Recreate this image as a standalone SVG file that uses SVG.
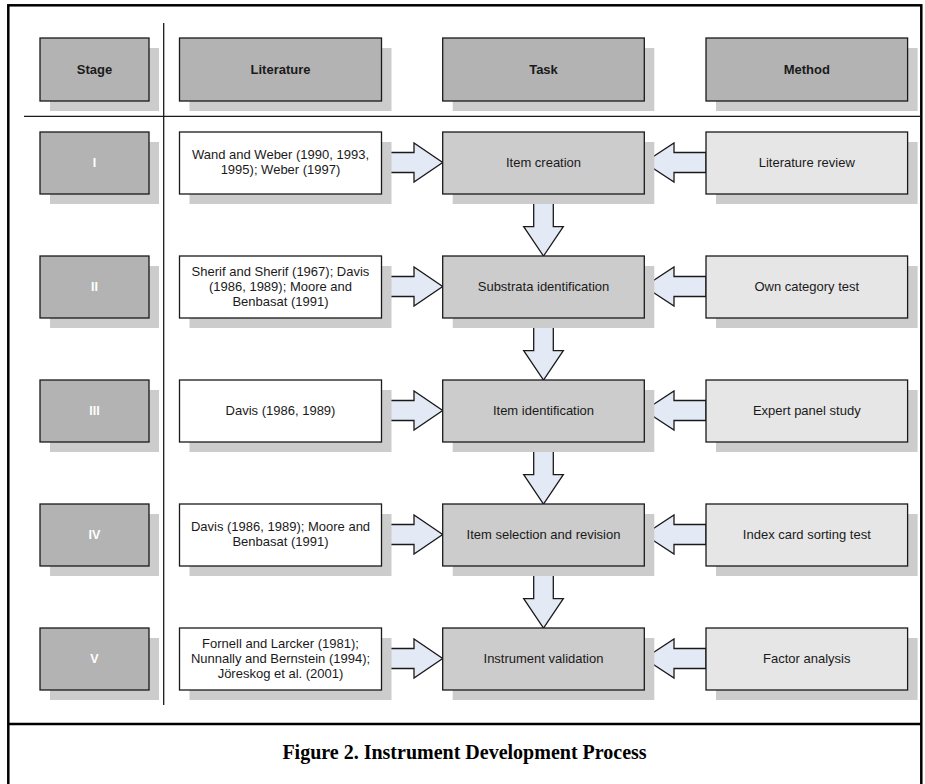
<svg xmlns="http://www.w3.org/2000/svg" width="925" height="784" viewBox="0 0 925 784">
<style>
.sh{fill:#cccccc}
.b{stroke:#1a1a1a;stroke-width:1.3}
.hd{fill:#b3b3b3}
.st{fill:#b3b3b3}
.lit{fill:#ffffff}
.task{fill:#cccccc}
.meth{fill:#e6e6e6}
.arr{fill:#e3eaf6;stroke:#1a1a1a;stroke-width:1.3;stroke-linejoin:miter}
text{font-family:"Liberation Sans",Arial,sans-serif;font-size:13px;text-anchor:middle;fill:#1a1a1a}
.bold{font-weight:bold}
.wt{fill:#ffffff;font-weight:bold;font-size:12.5px}
.cap{font-family:"Liberation Serif","Times New Roman",serif;font-weight:bold;font-size:20px;fill:#000}
</style>
<rect x="0" y="0" width="925" height="784" fill="#ffffff"/>
<rect x="8.3" y="5.3" width="913" height="820" fill="none" stroke="#000" stroke-width="2.5"/>
<line x1="8.3" y1="724" x2="921.3" y2="724" stroke="#000" stroke-width="2.5"/>
<g id="grid">
<line x1="163.7" y1="23" x2="163.7" y2="705" stroke="#1a1a1a" stroke-width="1.3"/>
<line x1="24" y1="116.3" x2="921" y2="116.3" stroke="#1a1a1a" stroke-width="1.3"/>
</g>
<g id="header">
<g id="h-stage"><rect class="sh" x="50" y="48" width="109" height="63"/><rect class="hd b" x="40" y="38" width="109" height="63"/><text class="bold" x="94.5" y="74">Stage</text></g>
<g id="h-lit"><rect class="sh" x="189.5" y="48" width="202" height="63"/><rect class="hd b" x="179.5" y="38" width="202" height="63"/><text class="bold" x="280.5" y="74">Literature</text></g>
<g id="h-task"><rect class="sh" x="452.7" y="48" width="201.6" height="63"/><rect class="hd b" x="442.7" y="38" width="201.6" height="63"/><text class="bold" x="543.5" y="74">Task</text></g>
<g id="h-method"><rect class="sh" x="716" y="48" width="201.6" height="63"/><rect class="hd b" x="706" y="38" width="201.6" height="63"/><text class="bold" x="806.8" y="74">Method</text></g>
</g>
<g id="connectors">
<path class="arr" d="M381.3,152.5 H414 V143 L442.7,162.5 L414,182 V172.5 H381.3 Z"/>
<path class="arr" d="M706,152.5 H674 V143 L644.3,162.5 L674,182 V172.5 H706 Z"/>
<path class="arr" d="M381.3,276.5 H414 V267 L442.7,286.5 L414,306 V296.5 H381.3 Z"/>
<path class="arr" d="M706,276.5 H674 V267 L644.3,286.5 L674,306 V296.5 H706 Z"/>
<path class="arr" d="M381.3,400.5 H414 V391 L442.7,410.5 L414,430 V420.5 H381.3 Z"/>
<path class="arr" d="M706,400.5 H674 V391 L644.3,410.5 L674,430 V420.5 H706 Z"/>
<path class="arr" d="M381.3,524.5 H414 V515 L442.7,534.5 L414,554 V544.5 H381.3 Z"/>
<path class="arr" d="M706,524.5 H674 V515 L644.3,534.5 L674,554 V544.5 H706 Z"/>
<path class="arr" d="M381.3,648.5 H414 V639 L442.7,658.5 L414,678 V668.5 H381.3 Z"/>
<path class="arr" d="M706,648.5 H674 V639 L644.3,658.5 L674,678 V668.5 H706 Z"/>
<path class="arr" d="M533.7,194 V226.7 H523.7 L543.5,256 L563.3,226.7 H553.3 V194 Z"/>
<path class="arr" d="M533.7,318 V350.7 H523.7 L543.5,380 L563.3,350.7 H553.3 V318 Z"/>
<path class="arr" d="M533.7,442 V474.7 H523.7 L543.5,504 L563.3,474.7 H553.3 V442 Z"/>
<path class="arr" d="M533.7,566 V598.7 H523.7 L543.5,628 L563.3,598.7 H553.3 V566 Z"/>
</g>
<g id="row1">
<g id="s1"><rect class="sh" x="50" y="142" width="109" height="62"/><rect class="st b" x="40" y="132" width="109" height="62"/><text class="wt" x="94.5" y="167">I</text></g>
<g id="l1"><rect class="sh" x="189.5" y="142" width="202" height="62"/><rect class="lit b" x="179.5" y="132" width="202" height="62"/><text x="280.5" y="159">Wand and Weber (1990, 1993,</text><text x="280.5" y="174">1995); Weber (1997)</text></g>
<g id="t1"><rect class="sh" x="452.7" y="142" width="201.6" height="62"/><rect class="task b" x="442.7" y="132" width="201.6" height="62"/><text x="543.5" y="167">Item creation</text></g>
<g id="m1"><rect class="sh" x="716" y="142" width="201.6" height="62"/><rect class="meth b" x="706" y="132" width="201.6" height="62"/><text x="806.8" y="167">Literature review</text></g>
</g>
<g id="row2">
<g id="s2"><rect class="sh" x="50" y="266" width="109" height="62"/><rect class="st b" x="40" y="256" width="109" height="62"/><text class="wt" x="94.5" y="291">II</text></g>
<g id="l2"><rect class="sh" x="189.5" y="266" width="202" height="62"/><rect class="lit b" x="179.5" y="256" width="202" height="62"/><text x="280.5" y="276">Sherif and Sherif (1967); Davis</text><text x="280.5" y="291">(1986, 1989); Moore and</text><text x="280.5" y="306">Benbasat (1991)</text></g>
<g id="t2"><rect class="sh" x="452.7" y="266" width="201.6" height="62"/><rect class="task b" x="442.7" y="256" width="201.6" height="62"/><text x="543.5" y="291">Substrata identification</text></g>
<g id="m2"><rect class="sh" x="716" y="266" width="201.6" height="62"/><rect class="meth b" x="706" y="256" width="201.6" height="62"/><text x="806.8" y="291">Own category test</text></g>
</g>
<g id="row3">
<g id="s3"><rect class="sh" x="50" y="390" width="109" height="62"/><rect class="st b" x="40" y="380" width="109" height="62"/><text class="wt" x="94.5" y="415">III</text></g>
<g id="l3"><rect class="sh" x="189.5" y="390" width="202" height="62"/><rect class="lit b" x="179.5" y="380" width="202" height="62"/><text x="280.5" y="415">Davis (1986, 1989)</text></g>
<g id="t3"><rect class="sh" x="452.7" y="390" width="201.6" height="62"/><rect class="task b" x="442.7" y="380" width="201.6" height="62"/><text x="543.5" y="415">Item identification</text></g>
<g id="m3"><rect class="sh" x="716" y="390" width="201.6" height="62"/><rect class="meth b" x="706" y="380" width="201.6" height="62"/><text x="806.8" y="415">Expert panel study</text></g>
</g>
<g id="row4">
<g id="s4"><rect class="sh" x="50" y="514" width="109" height="62"/><rect class="st b" x="40" y="504" width="109" height="62"/><text class="wt" x="94.5" y="539">IV</text></g>
<g id="l4"><rect class="sh" x="189.5" y="514" width="202" height="62"/><rect class="lit b" x="179.5" y="504" width="202" height="62"/><text x="280.5" y="531">Davis (1986, 1989); Moore and</text><text x="280.5" y="546">Benbasat (1991)</text></g>
<g id="t4"><rect class="sh" x="452.7" y="514" width="201.6" height="62"/><rect class="task b" x="442.7" y="504" width="201.6" height="62"/><text x="543.5" y="539">Item selection and revision</text></g>
<g id="m4"><rect class="sh" x="716" y="514" width="201.6" height="62"/><rect class="meth b" x="706" y="504" width="201.6" height="62"/><text x="806.8" y="539">Index card sorting test</text></g>
</g>
<g id="row5">
<g id="s5"><rect class="sh" x="50" y="638" width="109" height="62"/><rect class="st b" x="40" y="628" width="109" height="62"/><text class="wt" x="94.5" y="663">V</text></g>
<g id="l5"><rect class="sh" x="189.5" y="638" width="202" height="62"/><rect class="lit b" x="179.5" y="628" width="202" height="62"/><text x="280.5" y="648">Fornell and Larcker (1981);</text><text x="280.5" y="663">Nunnally and Bernstein (1994);</text><text x="280.5" y="678">Jöreskog et al. (2001)</text></g>
<g id="t5"><rect class="sh" x="452.7" y="638" width="201.6" height="62"/><rect class="task b" x="442.7" y="628" width="201.6" height="62"/><text x="543.5" y="663">Instrument validation</text></g>
<g id="m5"><rect class="sh" x="716" y="638" width="201.6" height="62"/><rect class="meth b" x="706" y="628" width="201.6" height="62"/><text x="806.8" y="663">Factor analysis</text></g>
</g>
<text class="cap" x="464.5" y="759">Figure 2. Instrument Development Process</text>
</svg>
